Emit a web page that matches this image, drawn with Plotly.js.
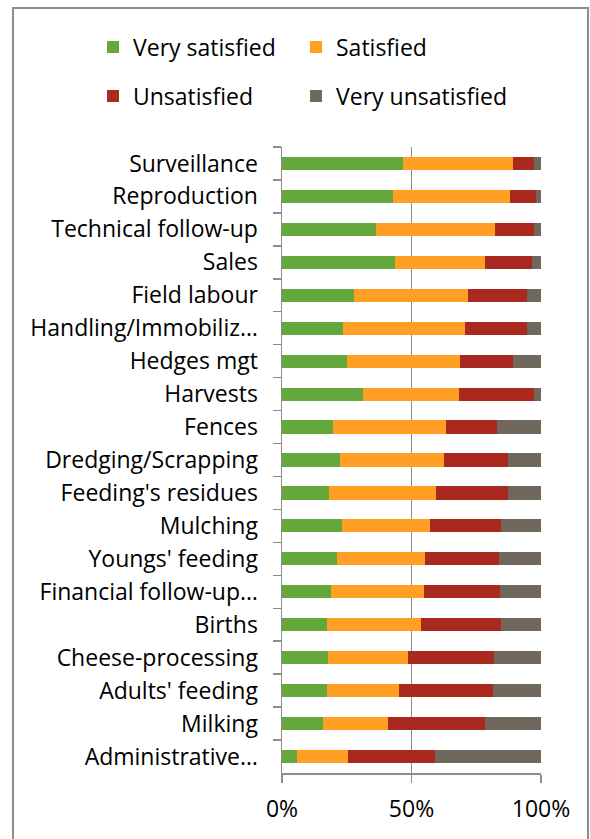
<!DOCTYPE html>
<html>
<head>
<meta charset="utf-8">
<script src="https://cdn.plot.ly/plotly-3.0.1.min.js"></script>
<style>
  html, body { margin: 0; padding: 0; background: #fff; }
  #wrap { position: relative; width: 590px; height: 839px; }
  #chart { width: 590px; height: 839px; }
  #frame { position: absolute; left: 12px; top: 7px; width: 573px; height: 840px;
           border: 2px solid #8c8c8c; pointer-events: none; }
</style>
</head>
<body>
<div id="wrap">
  <div id="chart"></div>
  <div id="frame"></div>
</div>
<script>
const categories = [
  "Surveillance", "Reproduction", "Technical follow-up", "Sales", "Field labour",
  "Handling/Immobiliz…", "Hedges mgt", "Harvests", "Fences", "Dredging/Scrapping",
  "Feeding's residues", "Mulching", "Youngs' feeding", "Financial follow-up…",
  "Births", "Cheese-processing", "Adults' feeding", "Milking", "Administrative…"
];
const verySatisfied   = [46.7, 42.7, 36.4, 43.8, 27.7, 23.6, 25.1, 31.2, 19.7, 22.4, 18.2, 23.3, 21.3, 19.0, 17.4, 17.8, 17.4, 15.8, 5.9];
const satisfied       = [42.5, 45.5, 46.0, 34.5, 44.1, 47.0, 43.7, 37.1, 43.5, 40.2, 41.4, 33.8, 34.0, 35.9, 36.4, 31.0, 27.6, 25.2, 19.5];
const unsatisfied     = [8.0, 9.7, 14.8, 18.1, 22.7, 23.9, 20.2, 29.1, 20.0, 24.6, 27.6, 27.4, 28.4, 29.3, 30.9, 32.9, 36.3, 37.3, 33.7];
const veryUnsatisfied = [2.8, 2.1, 2.8, 3.6, 5.5, 5.5, 11.0, 2.6, 16.8, 12.8, 12.8, 15.5, 16.3, 15.8, 15.3, 18.3, 18.7, 21.7, 40.9];
const seriesNames = ["Very satisfied", "Satisfied", "Unsatisfied", "Very unsatisfied"];
const xTickVals = [0, 50, 100];
const xTickText = ["0%", "50%", "100%"];

const colors = ["#64a83c", "#ffa024", "#a9291f", "#6f675b"];
const seriesData = [verySatisfied, satisfied, unsatisfied, veryUnsatisfied];
const legendIds = ["legend", "legend2", "legend3", "legend4"];
const legendPos = [[93, 47], [296, 47], [93, 96], [296, 96]];

const traces = seriesData.map((vals, i) => ({
  type: "bar",
  orientation: "h",
  name: seriesNames[i],
  x: vals,
  y: categories,
  marker: { color: colors[i], line: { width: 0 } },
  legend: legendIds[i],
  hoverinfo: "none"
}));

const FONT = "'Open Sans', Lato, sans-serif";
const FS = 23;

function legendAt(p) {
  return {
    orientation: "v", xref: "container", yref: "container",
    x: p[0] / 590, xanchor: "left", y: 1 - p[1] / 839, yanchor: "middle",
    font: { family: FONT, size: FS, color: "#000" }, bgcolor: "rgba(0,0,0,0)",
    borderwidth: 0
  };
}

const layout = {
  width: 590, height: 839,
  margin: { l: 282, r: 49, t: 147, b: 66, pad: 0, autoexpand: false },
  paper_bgcolor: "#fff", plot_bgcolor: "#fff",
  barmode: "stack",
  barnorm: "percent",
  bargap: 0.6,
  font: { family: FONT, size: FS, color: "#000" },
  showlegend: true,
  xaxis: {
    range: [0, 100], tickvals: xTickVals, ticktext: xTickText,
    showgrid: true, gridcolor: "#8c8c8c", gridwidth: 1.5,
    showline: true, linecolor: "#8c8c8c", linewidth: 1.5,
    ticks: "outside", ticklen: 8, tickcolor: "#8c8c8c", tickwidth: 1.5,
    ticklabelstandoff: 7,
    zeroline: false, fixedrange: true, automargin: false,
    tickfont: { family: FONT, size: FS, color: "#000" }
  },
  yaxis: {
    type: "category", autorange: "reversed",
    showline: true, linecolor: "#8c8c8c", linewidth: 1.5,
    ticks: "outside", ticklen: 8, tickcolor: "#8c8c8c", tickwidth: 1.5,
    tickson: "boundaries", showgrid: false,
    ticklabelstandoff: 18,
    fixedrange: true, automargin: false,
    tickfont: { family: FONT, size: FS, color: "#000" }
  }
};
legendIds.forEach((id, i) => { layout[id] = legendAt(legendPos[i]); });

Plotly.newPlot("chart", traces, layout, { displayModeBar: false, staticPlot: true });
</script>
</body>
</html>
